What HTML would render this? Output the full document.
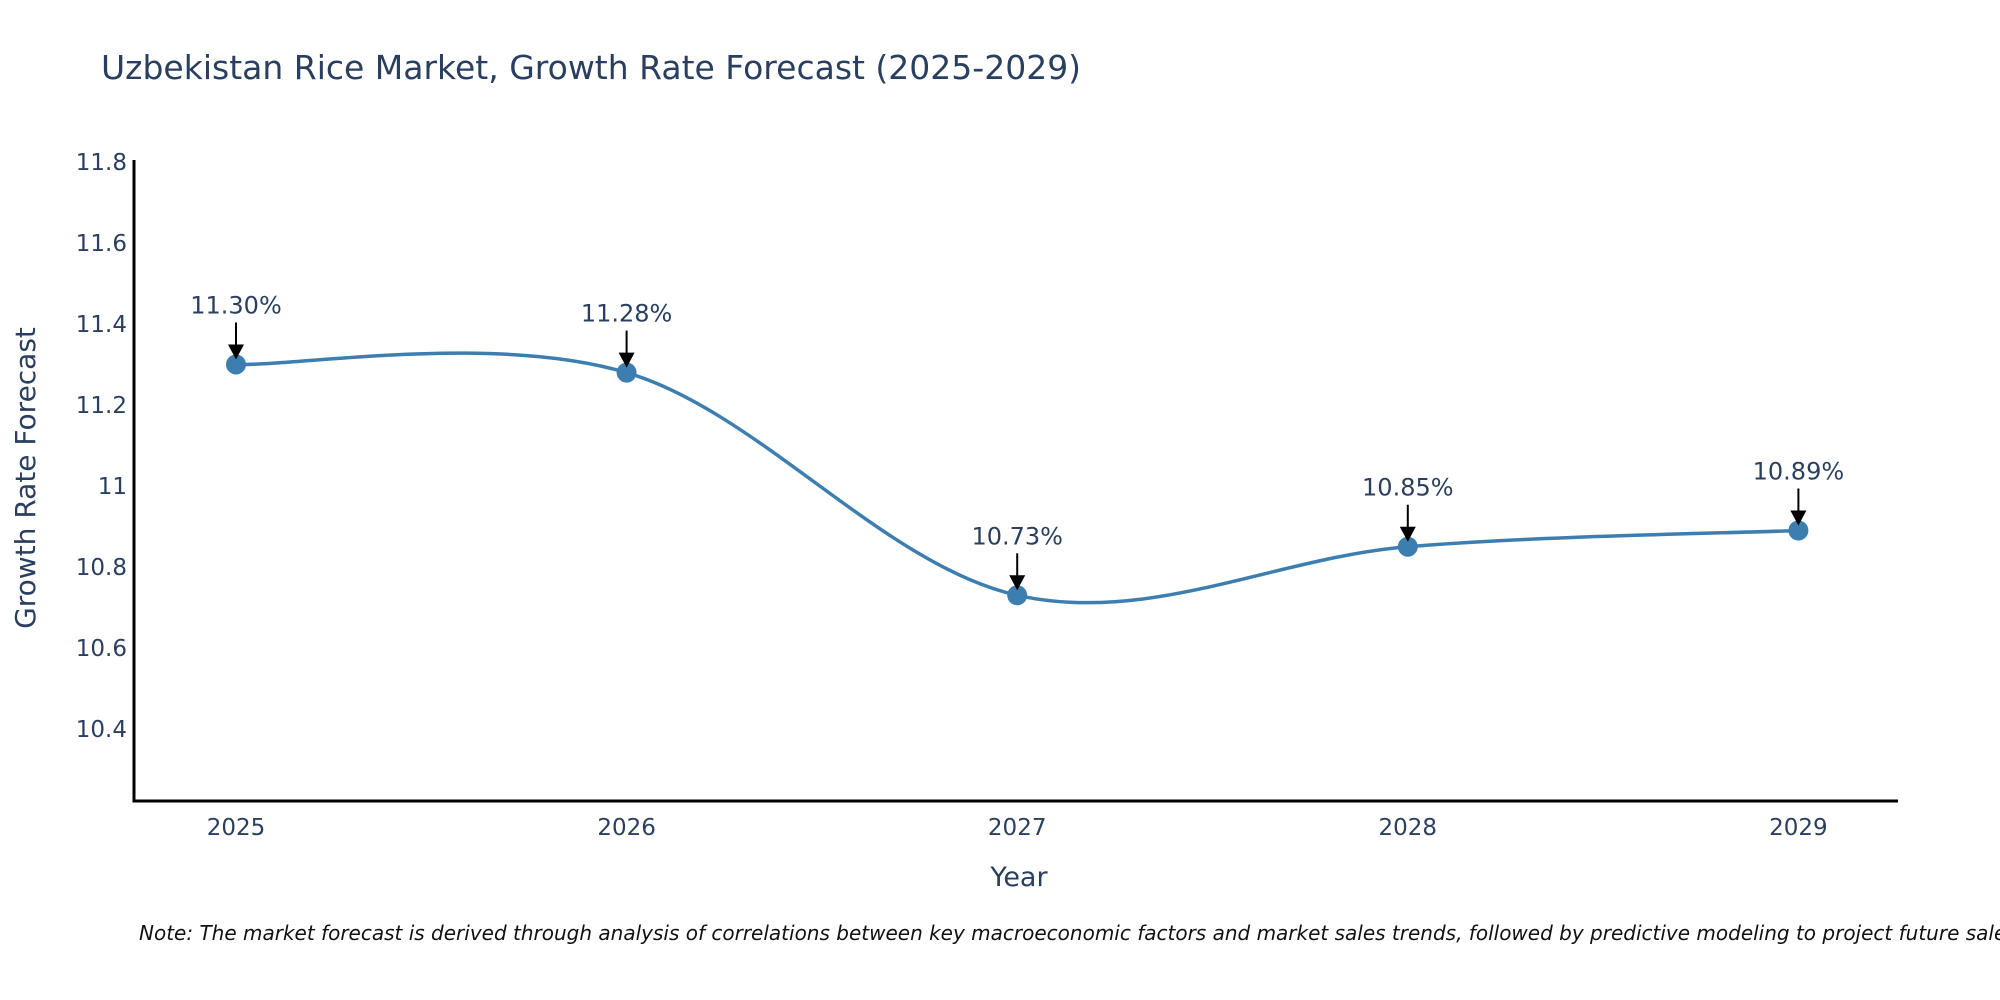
<!DOCTYPE html>
<html><head><meta charset="utf-8"><style>
html,body{margin:0;padding:0;background:#fff;width:2000px;height:1000px;overflow:hidden}
svg text{font-family:"DejaVu Sans","Liberation Sans",sans-serif;fill:#2a3f5f}
</style></head><body>
<svg id="chart" width="2000" height="1000" viewBox="0 0 2000 1000">
<text x="101" y="79" font-size="33">Uzbekistan Rice Market, Growth Rate Forecast (2025-2029)</text>
<g id="axes"></g>
<g id="marks"></g>
<text transform="translate(35,478) rotate(-90)" text-anchor="middle" font-size="28">Growth Rate Forecast</text>
<text x="1019" y="886" text-anchor="middle" font-size="27">Year</text>
<text x="139" y="940" font-size="20" font-style="italic" style="fill:#111">Note: The market forecast is derived through analysis of correlations between key macroeconomic factors and market sales trends, followed by predictive modeling to project future sales</text>
</svg>
<script>
const years = [2025, 2026, 2027, 2028, 2029];
const growth = [11.30, 11.28, 10.73, 10.85, 10.89];
const labels = ["11.30%", "11.28%", "10.73%", "10.85%", "10.89%"];
const yTicks = [10.4, 10.6, 10.8, 11, 11.2, 11.4, 11.6, 11.8];
const yTickLabels = ["10.4", "10.6", "10.8", "11", "11.2", "11.4", "11.6", "11.8"];

const NS = "http://www.w3.org/2000/svg";
const L = 134, R = 1898, B = 801, T = 160;
const yMin = 10.222, yMax = 11.805;
const xFirst = 236, xStep = 390.6;
function xs(i){ return xFirst + i * xStep; }
function ys(v){ return B - (v - yMin) / (yMax - yMin) * (B - T); }
function mk(tag, attrs, parent){ const e = document.createElementNS(NS, tag); for (const k in attrs) e.setAttribute(k, attrs[k]); parent.appendChild(e); return e; }

const axes = document.getElementById('axes');
const marks = document.getElementById('marks');
const yAx = mk('line', {x1:L, y1:T, x2:L, y2:B+1.5, stroke:'#000', 'stroke-width':3}, axes);


const xAx = mk('line', {x1:L-1.5, y1:B, x2:R, y2:B, stroke:'#000', 'stroke-width':3}, axes);



yTicks.forEach((v, i) => {
  const t = mk('text', {x:L-7, y:ys(v)+8, 'text-anchor':'end', 'font-size':23}, axes);
  t.textContent = yTickLabels[i];
  
  
});
years.forEach((yr, i) => {
  const t = mk('text', {x:xs(i), y:835, 'text-anchor':'middle', 'font-size':23}, axes);
  t.textContent = String(yr);
  
  
});

const pts = growth.map((v, i) => [xs(i), ys(v)]);
let d = `M${pts[0][0]},${pts[0][1]}`;
const k = 0.17;
for (let i = 0; i < pts.length - 1; i++) {
  const p0 = pts[Math.max(i-1,0)], p1 = pts[i], p2 = pts[i+1], p3 = pts[Math.min(i+2, pts.length-1)];
  const c1 = [p1[0] + (p2[0]-p0[0])*k, p1[1] + (p2[1]-p0[1])*k];
  const c2 = [p2[0] - (p3[0]-p1[0])*k, p2[1] - (p3[1]-p1[1])*k];
  d += ` C${c1[0]},${c1[1]} ${c2[0]},${c2[1]} ${p2[0]},${p2[1]}`;
}
const line = mk('path', {d:d, fill:'none', stroke:'#3d7eb0', 'stroke-width':3.5}, marks);



growth.forEach((v, i) => {
  const cx = xs(i), cy = ys(v);
  const c = mk('circle', {cx:cx, cy:cy, r:10, fill:'#3d7eb0'}, marks);
  
  
  const a = mk('line', {x1:cx, y1:cy-42, x2:cx, y2:cy-16, stroke:'#000', 'stroke-width':2}, marks);
  
  
  const h = mk('polygon', {points:`${cx-8},${cy-20} ${cx+8},${cy-20} ${cx},${cy-5}`, fill:'#000'}, marks);
  
  
  const t = mk('text', {x:cx, y:cy-51, 'text-anchor':'middle', 'font-size':24}, marks);
  t.textContent = labels[i];
  
  
});
</script>
</body></html>
